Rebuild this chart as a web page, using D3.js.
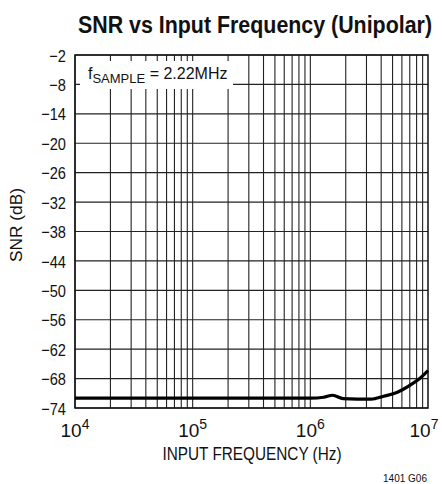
<!DOCTYPE html>
<html>
<head>
<meta charset="utf-8">
<script src="https://cdn.jsdelivr.net/npm/d3@7"></script>
<style>
	body { margin: 0; background: #fff; }
	svg text { font-family: 'Liberation Sans Narrow', 'Liberation Sans', Arial, sans-serif; fill: #111; }
</style>
</head>
<body>
<svg></svg>
<script>
'use strict'

// curve
let freqs = [1e4, 3e4, 1e5, 3e5, 1e6, 1.3e6, 1.55e6, 1.9e6, 2.5e6, 3.3e6, 4.2e6, 5.5e6, 7e6, 8.5e6, 1e7]
let snr = [-72, -72, -72, -72, -72, -71.8, -71.4, -72.1, -72.2, -72.2, -71.6, -70.8, -69.4, -68, -66.4]

let yTicks = [-2, -8, -14, -20, -26, -32, -38, -44, -50, -56, -62, -68, -74]
let xDecades = [4, 5, 6, 7]

let width = 442,
	height = 484

let margin = { top: 55, right: 14, bottom: 76, left: 75 }

let svg = d3.select('svg')
	.attr('width', width)
	.attr('height', height)

let x = d3.scaleLog()
	.domain([1e4, 1e7])
	.range([margin.left, width - margin.right])

let y = d3.scaleLinear()
	.domain([-74, -2])
	.range([height - margin.bottom, margin.top])

// minor grid values 1..9 per decade
let gridX = []
for (let d = 4; d < 7; d++) {
	for (let m = 1; m < 10; m++) gridX.push(m * Math.pow(10, d))
}

let grid = svg.append('g').attr('class', 'grid')

grid.selectAll('line.v')
	.data(gridX)
	.enter().append('line')
	.attr('class', 'v')
	.attr('x1', function(d) { return x(d) })
	.attr('x2', function(d) { return x(d) })
	.attr('y1', y(-2))
	.attr('y2', y(-74))
	.style('stroke', '#222')
	.style('stroke-width', 1.1)

grid.selectAll('line.h')
	.data(yTicks)
	.enter().append('line')
	.attr('class', 'h')
	.attr('x1', x(1e4))
	.attr('x2', x(1e7))
	.attr('y1', function(d) { return y(d) })
	.attr('y2', function(d) { return y(d) })
	.style('stroke', '#222')
	.style('stroke-width', 1.1)

// label box hides the grid behind it
svg.append('rect')
	.attr('x', 80)
	.attr('y', 61)
	.attr('width', 153)
	.attr('height', 28)
	.style('fill', '#fff')

let note = svg.append('text')
	.attr('x', 88)
	.attr('y', 79)
	.style('font-size', '16px')
note.append('tspan').text('f')
note.append('tspan').attr('dy', 4).style('font-size', '13px').text('SAMPLE')
note.append('tspan').attr('dy', -4).text(' = 2.22MHz')

// frame
svg.append('rect')
	.attr('x', x(1e4))
	.attr('y', y(-2))
	.attr('width', x(1e7) - x(1e4))
	.attr('height', y(-74) - y(-2))
	.style('fill', 'none')
	.style('stroke', '#111')
	.style('stroke-width', 1.5)

let line = d3.line()
	.x(function(d, i) { return x(freqs[i]) })
	.y(function(d) { return y(d) })
	.curve(d3.curveMonotoneX)

svg.append('path')
	.datum(snr)
	.attr('d', line)
	.style('fill', 'none')
	.style('stroke', '#000')
	.style('stroke-width', 3.2)

// y axis labels, squeezed to look like the condensed face
let yAxis = svg.append('g')
	.attr('transform', 'translate(' + (margin.left - 9) + ',0)')
	.call(d3.axisLeft(y).tickValues(yTicks).tickSize(0).tickPadding(0)
		.tickFormat(function(d) { return '\u2212' + Math.abs(d) }))
yAxis.select('.domain').remove()
yAxis.selectAll('.tick text')
	.attr('x', 0)
	.attr('dy', '0.36em')
	.attr('transform', 'scale(0.86,1)')
	.style('font-size', '17px')
	.style('font-family', null)

// x axis labels with superscript exponents
let xl = svg.append('g').selectAll('text')
	.data(xDecades)
	.enter().append('text')
	.attr('x', function(d) { return x(Math.pow(10, d)) - (d === 7 ? 4 : 0) })
	.attr('y', 437)
	.attr('text-anchor', 'middle')
	.style('font-size', '19px')
xl.append('tspan').text('10')
xl.append('tspan').attr('dy', -8).style('font-size', '14px').text(function(d) { return d })

svg.append('text')
	.attr('x', 252)
	.attr('y', 460)
	.attr('text-anchor', 'middle')
	.attr('textLength', 179)
	.attr('lengthAdjust', 'spacingAndGlyphs')
	.style('font-size', '18px')
	.text('INPUT FREQUENCY (Hz)')

svg.append('text')
	.attr('transform', 'translate(22,225) rotate(-90)')
	.attr('text-anchor', 'middle')
	.attr('textLength', 74)
	.attr('lengthAdjust', 'spacingAndGlyphs')
	.style('font-size', '17px')
	.text('SNR (dB)')

// title: smaller face stretched tall, so it fits the width
svg.append('text')
	.attr('transform', 'translate(255,33) scale(1,1.18)')
	.attr('text-anchor', 'middle')
	.attr('textLength', 354)
	.attr('lengthAdjust', 'spacingAndGlyphs')
	.style('font-size', '21px')
	.style('font-weight', 'bold')
	.text('SNR vs Input Frequency (Unipolar)')

svg.append('text')
	.attr('x', 427)
	.attr('y', 482)
	.attr('text-anchor', 'end')
	.style('font-size', '10px')
	.text('1401 G06')
</script>
</body>
</html>
